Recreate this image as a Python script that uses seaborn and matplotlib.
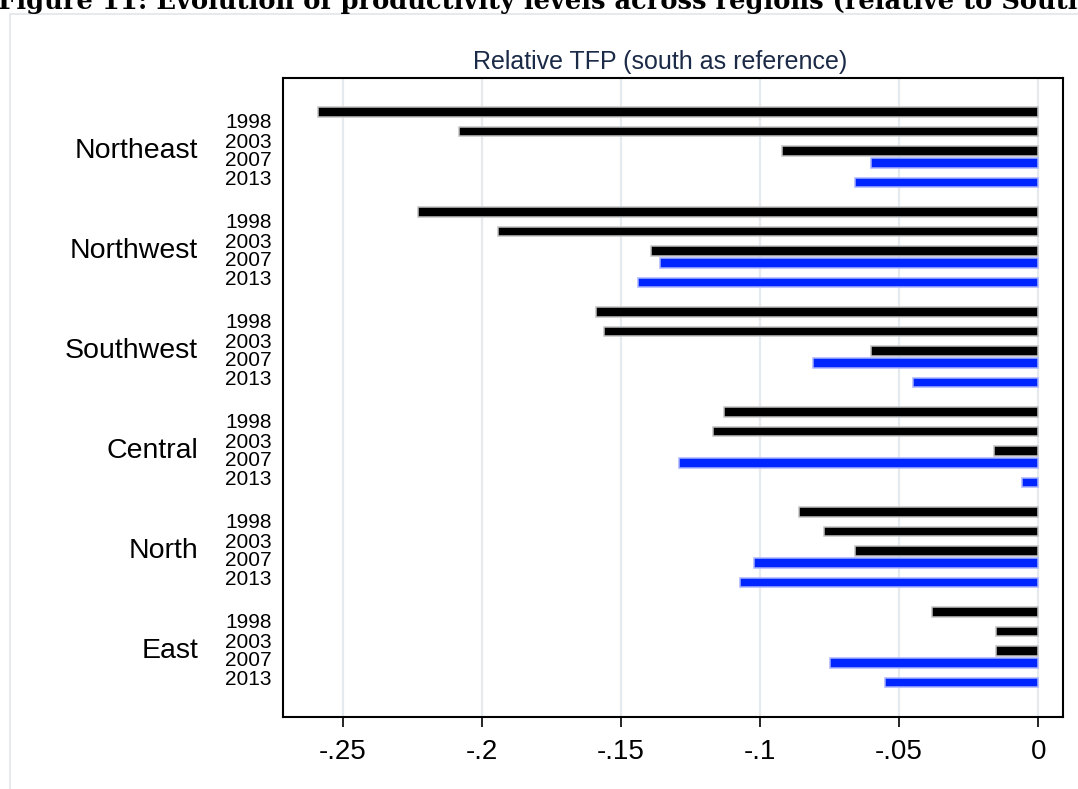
import numpy as np
import pandas as pd
import matplotlib
matplotlib.use("Agg")
import matplotlib.pyplot as plt
import matplotlib.transforms as mtransforms
from matplotlib.patches import Rectangle
import seaborn as sns

# ---- data -------------------------------------------------------------
regions = ["Northeast", "Northwest", "Southwest", "Central", "North", "East"]
year_labels = ["1998", "2003", "2007", "2013"]
x_ticks = [-0.25, -0.20, -0.15, -0.10, -0.05, 0.0]
x_tick_labels = ["-.25", "-.2", "-.15", "-.1", "-.05", "0"]

# relative TFP (south = 0), one value per region
tfp_1998 = [-0.259, -0.223, -0.159, -0.113, -0.086, -0.038]
tfp_2003 = [-0.208, -0.194, -0.156, -0.117, -0.077, -0.015]
tfp_2007 = [-0.092, -0.139, -0.060, -0.016, -0.066, -0.015]
tfp_2007_b = [-0.060, -0.136, -0.081, -0.129, -0.102, -0.075]
tfp_2013 = [-0.066, -0.144, -0.045, -0.006, -0.107, -0.055]

series_names = ["1998", "2003", "2007", "2007b", "2013"]
series_values = [tfp_1998, tfp_2003, tfp_2007, tfp_2007_b, tfp_2013]
series_group = ["early", "early", "early", "late", "late"]

# ---- layout within each region block (block pitch = 1) -----------------
block_start = 0.65
bar_offsets = [0.0, 0.195, 0.39, 0.51, 0.703]
label_offsets = [0.08, 0.28, 0.463, 0.655]
region_offset = 0.46

rows = []
for r, reg in enumerate(regions):
    for s in range(len(series_names)):
        rows.append(dict(region=reg, series=series_names[s], group=series_group[s],
                         tfp=series_values[s][r],
                         pos=block_start + r + bar_offsets[s]))
df = pd.DataFrame(rows)

sns.set_theme(style="white")
plt.rcParams["font.family"] = ["Liberation Sans", "DejaVu Sans"]
plt.rcParams["text.color"] = "black"
plt.rcParams["xtick.color"] = "black"
plt.rcParams["ytick.color"] = "black"

W, H = 1078, 789
fig = plt.figure(figsize=(W / 100, H / 100), dpi=100)
ax_left, ax_right, ax_top, ax_bottom = 283, 1063, 78, 717
ax = fig.add_axes([ax_left / W, (H - ax_bottom) / H,
                   (ax_right - ax_left) / W, (ax_bottom - ax_top) / H])

palette = {"early": "#000000", "late": "#0026ff"}
sns.barplot(data=df, x="tfp", y="pos", hue="group", palette=palette,
            orient="y", native_scale=True, dodge=False, width=0.76,
            saturation=1, errorbar=None, legend=False, ax=ax)

for p in ax.patches:
    fc = p.get_facecolor()
    if fc[2] > 0.5:
        p.set_edgecolor("#a9b3ff")
    else:
        p.set_edgecolor("#c2c2c2")
    p.set_linewidth(1.1)
    p.set_zorder(3)

ax.set_ylim(6.70, (ax_top - 47) / 100)
ax.set_xlim(-0.2714, 0.0089)

# year labels on the y axis
ytick_pos = [block_start + r + off for r in range(len(regions)) for off in label_offsets]
ytick_lab = [y for _ in regions for y in year_labels]
ax.set_yticks(ytick_pos)
ax.set_yticklabels(ytick_lab, fontsize=15, color="black")
ax.tick_params(axis="y", length=0, pad=8)

ax.set_xticks(x_ticks)
ax.set_xticklabels(x_tick_labels, fontsize=20, color="black")
ax.tick_params(axis="x", direction="out", length=7.5, width=1.2, pad=8,
               color="black", bottom=True)

ax.set_xlabel("")
ax.set_ylabel("")
ax.xaxis.grid(True, color="#e4eaee", linewidth=1.6)
ax.yaxis.grid(False)
ax.set_axisbelow(True)
for sp in ax.spines.values():
    sp.set_visible(True)
    sp.set_color("black")
    sp.set_linewidth(1.5)

# region names
trans = mtransforms.blended_transform_factory(ax.transAxes, ax.transData)
x_reg = (198 - ax_left) / (ax_right - ax_left)
for r, reg in enumerate(regions):
    ax.text(x_reg, block_start + r + region_offset, reg, transform=trans,
            ha="right", va="baseline", fontsize=20.5, color="black")

# chart title
fig.text(660 / W, 1 - 62 / H, "Relative TFP (south as reference)",
         ha="center", va="center", fontsize=18, color="#1b2a47")

# outer graph region border
fig.add_artist(Rectangle((10 / W, -0.1), 1.2, 1 - 14 / H + 0.1,
                         transform=fig.transFigure, fill=False,
                         edgecolor="#dfe6ea", linewidth=1.2))

# figure caption
fig.text(-2 / W, 1 - 9 / H,
         "Figure 11: Evolution of productivity levels across regions (relative to South)",
         ha="left", va="baseline", fontsize=18.5, fontweight="bold",
         family=["DejaVu Serif"], color="black")

fig.savefig("out.png", dpi=100)
